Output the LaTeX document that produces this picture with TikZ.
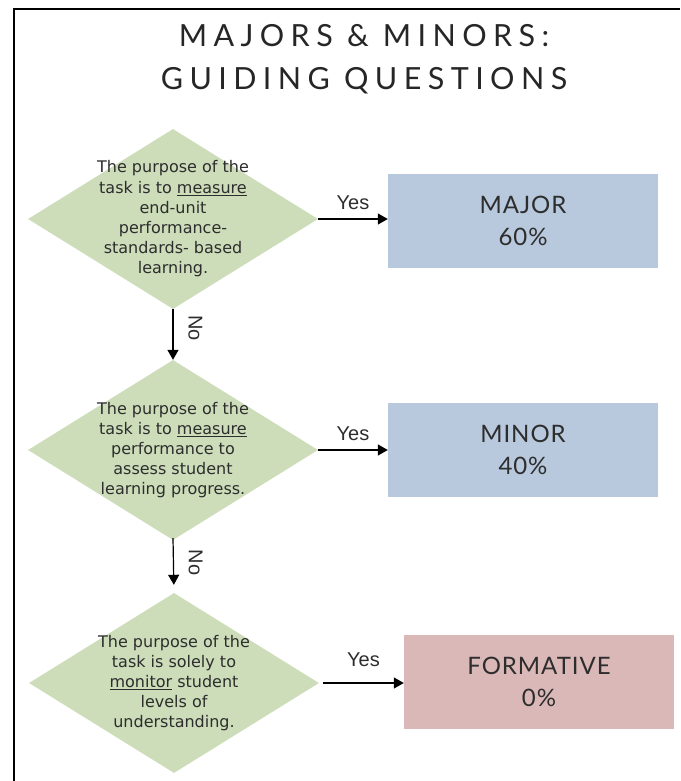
\documentclass[tikz,border=0pt]{standalone}
\usepackage{fontspec}
\setmainfont{DejaVu Sans}
\newfontfamily\titlefont[LetterSpace=21]{Lato}
\newfontfamily\boxfont[LetterSpace=4]{Lato}
\newfontfamily\labelfont{Liberation Sans}
\usetikzlibrary{arrows.meta, shapes.geometric}
\definecolor{questiongreen}{RGB}{205,221,186}
\definecolor{majorblue}{RGB}{184,200,221}
\definecolor{formativepink}{RGB}{219,184,184}
\definecolor{textgray}{RGB}{45,45,45}

\begin{document}
\begin{tikzpicture}[
  x=1pt, y=-1pt,
  question/.style={diamond, fill=questiongreen, minimum width=290pt,
    minimum height=180pt, inner sep=-40pt, align=center,
    font=\fontsize{16}{20.2}\selectfont, text=textgray},
  result/.style={rectangle, minimum width=270pt, minimum height=94pt,
    align=center, font=\boxfont\fontsize{24}{32}\selectfont, text=textgray},
  arrow/.style={-{Triangle[length=10pt, width=11pt]}, line width=1.2pt},
  answer/.style={font=\labelfont\fontsize{20}{22}\selectfont, text=textgray}
]
  \useasboundingbox (0,0) rectangle (680,781);
  \draw[line width=2.5pt] (14,781) -- (14,9) -- (680,9);

  \node[font=\titlefont\fontsize{30.5}{43}\selectfont, align=center,
    text=black!85] (title) at (364,59) {MAJORS \& MINORS:\\GUIDING QUESTIONS};

  \node[question] (q1) at (173,219) {The purpose of the\\task is to \underline{measure}\\end-unit\\performance-\\standards- based\\learning.};
  \node[question] (q2) at (173,450) {The purpose of the\\task is to \underline{measure}\\performance to\\assess student\\learning progress.};
  \node[question] (q3) at (174,683) {The purpose of the\\task is solely to\\\underline{monitor} student\\levels of\\understanding.};

  \node[result, fill=majorblue] (major) at (523,221) {MAJOR\\60\%};
  \node[result, fill=majorblue] (minor) at (523,450) {MINOR\\40\%};
  \node[result, fill=formativepink] (formative) at (539,682) {FORMATIVE\\0\%};

  \draw[arrow] (q1.east) -- (q1.east -| major.west) node[midway, above=5pt, answer] (yes1) {Yes};
  \draw[arrow] (q2.east) -- (q2.east -| minor.west) node[midway, above=5pt, answer] (yes2) {Yes};
  \draw[arrow] ([xshift=4pt]q3.east) -- (q3.east -| formative.west) node[midway, above=12pt, answer] (yes3) {Yes};

  \draw[arrow] (q1.south) -- (q2.north) node[pos=0.37, rotate=-90, anchor=south, outer sep=12pt, answer] (no1) {No};
  \draw[arrow, shorten >=8pt] ([yshift=2pt]q2.south) -- (q3.north) node[pos=0.45, rotate=-90, anchor=south, outer sep=12pt, answer] (no2) {No};
\end{tikzpicture}
\end{document}
